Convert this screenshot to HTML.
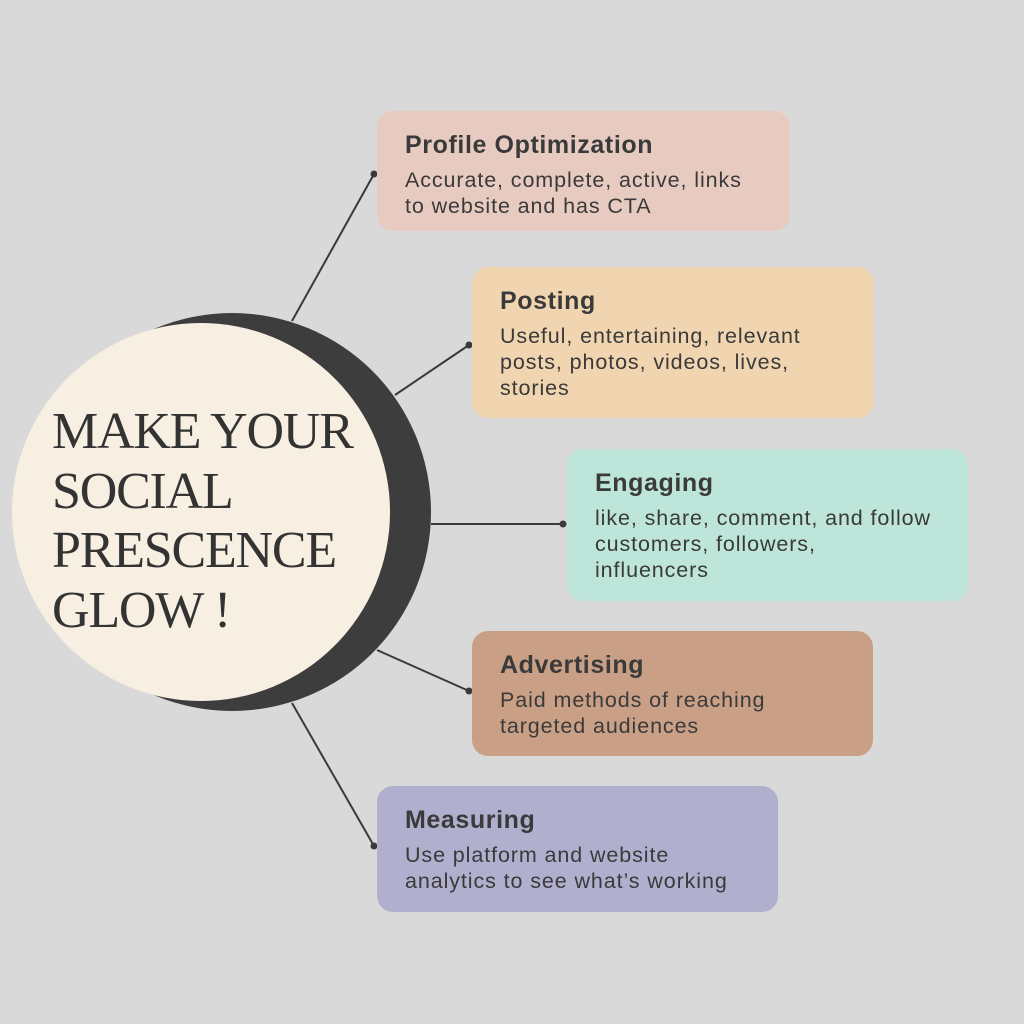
<!DOCTYPE html>
<html><head><meta charset="utf-8"><style>
body{margin:0;width:1024px;height:1024px;background:#d9d9d9;position:relative;overflow:hidden;font-family:"Liberation Sans",sans-serif;}
.c{position:absolute;border-radius:50%;}
.b{position:absolute;border-radius:16px;color:#3a3a3a;box-sizing:border-box;padding:19px 0 0 28px;}
.b h3{margin:0 0 7px;font-size:25px;font-weight:bold;line-height:30px;letter-spacing:0.6px;}
.b p{margin:0;font-size:21.5px;line-height:26px;letter-spacing:0.9px;}
.t{position:absolute;left:52px;top:402px;font-family:"Liberation Serif",serif;font-size:52px;line-height:59.5px;color:#333;letter-spacing:-1.2px;}
</style></head><body>
<svg width="1024" height="1024" style="position:absolute;left:0;top:0">
<g stroke="#3a3a3a" stroke-width="2">
<line x1="292" y1="321" x2="374" y2="174"/>
<line x1="395" y1="395" x2="469" y2="345"/>
<line x1="431" y1="524" x2="563" y2="524"/>
<line x1="377" y1="650" x2="469" y2="691"/>
<line x1="292" y1="703" x2="374" y2="846"/>
</g>
<g fill="#3a3a3a">
<circle cx="374" cy="174" r="3.5"/><circle cx="469" cy="345" r="3.5"/><circle cx="563" cy="524" r="3.5"/><circle cx="469" cy="691" r="3.5"/><circle cx="374" cy="846" r="3.5"/>
</g>
</svg>
<div class="c" style="left:33px;top:313px;width:398px;height:398px;background:#3d3d3d"></div>
<div class="c" style="left:12px;top:323px;width:378px;height:378px;background:#f7f0e2"></div>
<div class="t">MAKE YOUR<br>SOCIAL<br>PRESCENCE<br>GLOW !</div>
<div class="b" style="left:377px;top:111px;width:413px;height:120px;background:#e8cbc0"><h3>Profile Optimization</h3><p>Accurate, complete, active, links<br>to website and has CTA</p></div>
<div class="b" style="left:472px;top:267px;width:402px;height:151px;background:#f0d5b0"><h3>Posting</h3><p>Useful, entertaining, relevant<br>posts, photos, videos, lives,<br>stories</p></div>
<div class="b" style="left:567px;top:449px;width:401px;height:152px;background:#bde5da"><h3>Engaging</h3><p>like, share, comment, and follow<br>customers, followers,<br>influencers</p></div>
<div class="b" style="left:472px;top:631px;width:401px;height:125px;background:#c9a085"><h3>Advertising</h3><p>Paid methods of reaching<br>targeted audiences</p></div>
<div class="b" style="left:377px;top:786px;width:401px;height:126px;background:#b1afce"><h3>Measuring</h3><p>Use platform and website<br>analytics to see what’s working</p></div>
</body></html>
